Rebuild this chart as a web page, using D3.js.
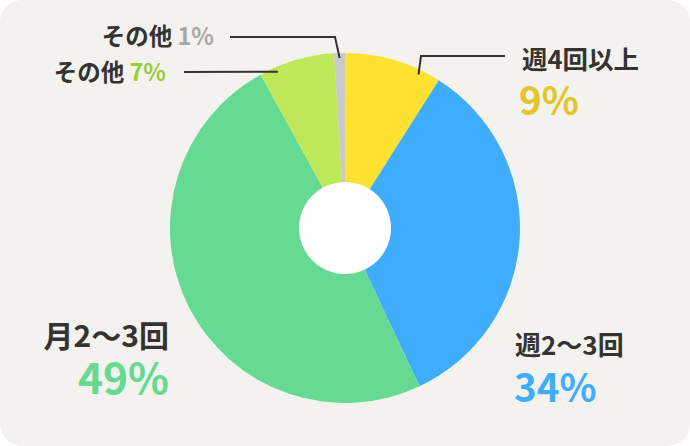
<!DOCTYPE html>
<html lang="ja">
<head>
  <meta charset="UTF-8">
  <title>頻度の割合</title>
  <script src="https://d3js.org/d3.v7.min.js"></script>
  <style>
    html, body { margin: 0; padding: 0; background: #fff; }
    svg { display: block; font-family: "Noto Sans CJK JP", "Noto Sans", sans-serif; }
    .leader { fill: none; stroke: #333; stroke-width: 2; }
    .name { font-weight: 700; fill: #333; }
    .pct { font-weight: 700; }
  </style>
</head>
<body>
  <svg width="690" height="446"></svg>
  <script>
    // data
    const categories = ["週4回以上", "週2〜3回", "月2〜3回", "その他", "その他"];
    const shares = [9, 34, 49, 7, 1];
    const sliceColors = ["#fee232", "#40adfc", "#66d993", "#bfe75a", "#c9c9c9"];
    const pctColors = ["#e4c52a", "#40adfc", "#66d993", "#98cc3c", "#a8a8a8"];

    const svg = d3.select("svg");
    const W = 690, H = 446;
    const cx = 345, cy = 228, R = 175, r0 = 46;

    svg.append("rect")
      .attr("width", W).attr("height", H)
      .attr("rx", 22).attr("ry", 22)
      .attr("fill", "#f3f2ef");

    const pie = d3.pie().sort(null).value(d => d)(shares);
    const arc = d3.arc().innerRadius(0).outerRadius(R);

    const g = svg.append("g").attr("transform", `translate(${cx},${cy})`);
    g.selectAll("path.slice")
      .data(pie)
      .enter().append("path")
      .attr("class", "slice")
      .attr("d", arc)
      .attr("fill", (d, i) => sliceColors[i]);

    g.append("circle").attr("r", r0).attr("fill", "#fff");

    // label layout (annotation placement only)
    // at: fraction inside the slice where the leader touches; elbow / end: leader path
    const layout = [
      { at: 0.79, elbow: [421, 56], end: [505, 56], tx: 522, ty: 69, anchor: "start", px: 519, py: 115, size: 25.5, big: 38.5 },
      { tx: 515, ty: 355, anchor: "start", px: 514, py: 402, size: 26, big: 38.5 },
      { tx: 169, ty: 347, anchor: "end", px: 169, py: 394, size: 30, big: 42.5 },
      { at: 0.22, elbow: null, end: [184, 72], tx: 166, ty: 81, anchor: "end", inline: true, size: 23.5 },
      { at: 0.5, elbow: [335, 37], end: [230, 37], tx: 214, ty: 45, anchor: "end", inline: true, size: 23.5 }
    ];

    const lr = 170;
    pie.forEach((d, i) => {
      const L = layout[i];
      if (L.at !== undefined) {
        const a = d.startAngle + (d.endAngle - d.startAngle) * L.at;
        const p0 = [cx + lr * Math.sin(a), cy - lr * Math.cos(a)];
        const pts = [p0];
        if (L.elbow) pts.push(L.elbow);
        pts.push(L.end);
        svg.append("path").attr("class", "leader").attr("d", d3.line()(pts));
      }
      if (L.inline) {
        const t = svg.append("text")
          .attr("x", L.tx).attr("y", L.ty)
          .attr("text-anchor", L.anchor)
          .style("font-size", L.size + "px");
        t.append("tspan").attr("class", "name").text(categories[i] + " ");
        t.append("tspan").attr("class", "pct").attr("fill", pctColors[i]).text(shares[i] + "%");
      } else {
        svg.append("text")
          .attr("class", "name")
          .attr("x", L.tx).attr("y", L.ty)
          .attr("text-anchor", L.anchor)
          .style("font-size", L.size + "px")
          .text(categories[i]);
        svg.append("text")
          .attr("class", "pct")
          .attr("x", L.px).attr("y", L.py)
          .attr("text-anchor", L.anchor)
          .attr("fill", pctColors[i])
          .style("font-size", L.big + "px")
          .text(shares[i] + "%");
      }
    });
  </script>
</body>
</html>
